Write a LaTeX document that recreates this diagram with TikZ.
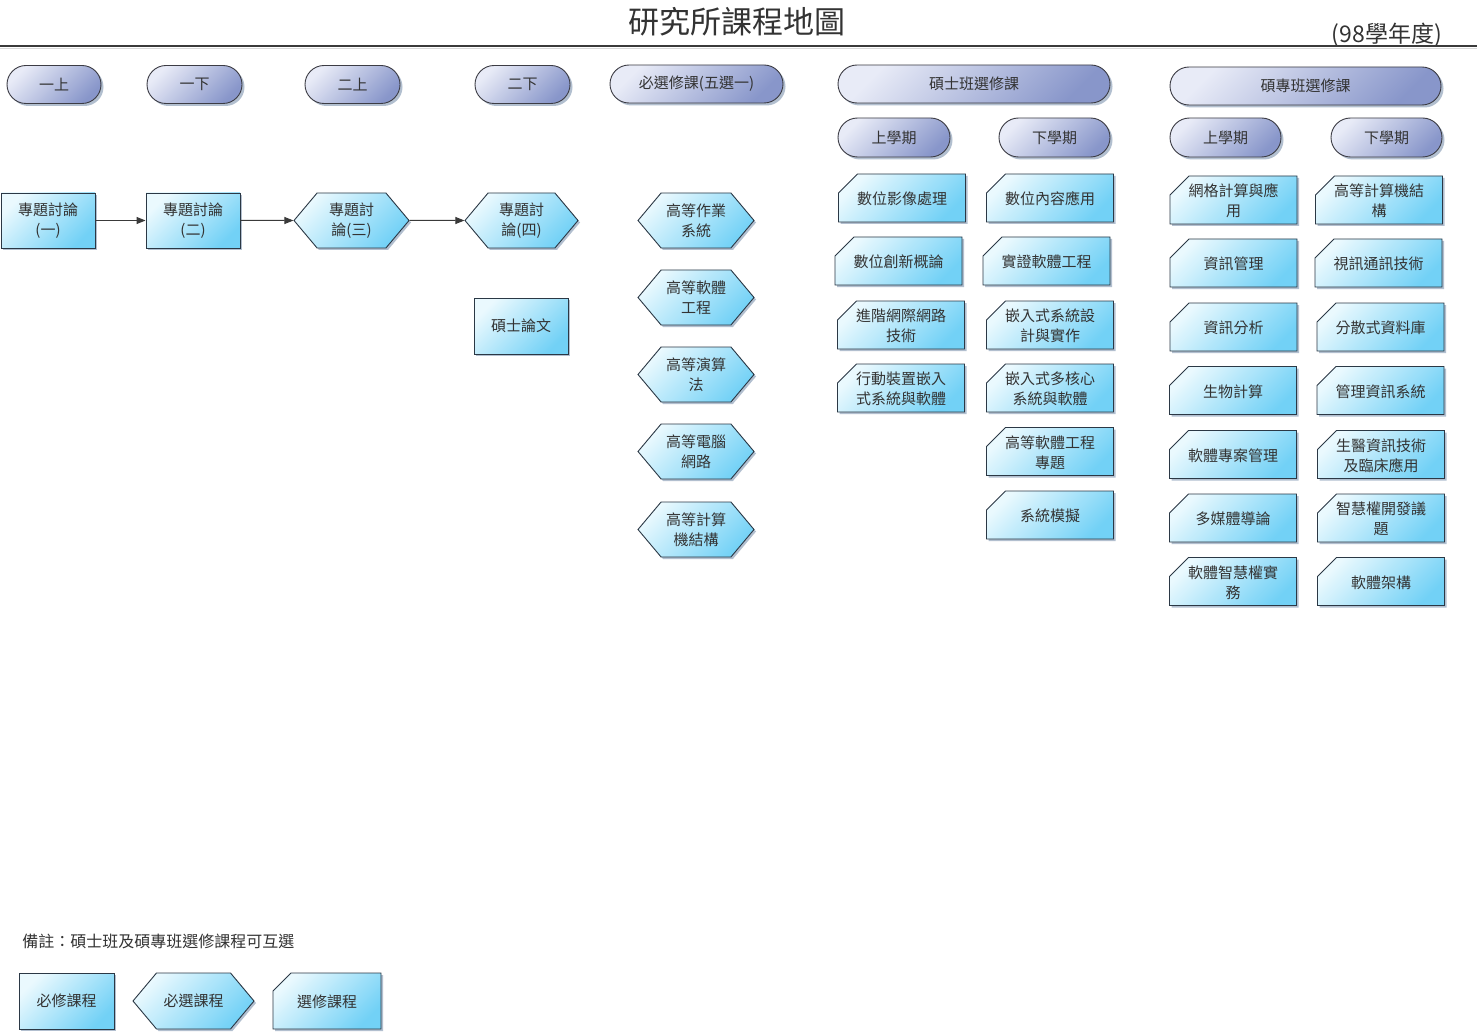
\documentclass[tikz,border=0pt]{standalone}
\usepackage{fontspec}
\newfontfamily\cjkf{Noto Sans CJK TC}
\usetikzlibrary{shapes.misc,shapes.symbols,shadows,arrows.meta}
\definecolor{txt}{HTML}{333333}
\definecolor{bord}{HTML}{2B3845}
\definecolor{pbord}{HTML}{3C3C44}
\definecolor{boxtop}{HTML}{EAF9FE}
\definecolor{boxbot}{HTML}{72D1F6}
\definecolor{pilltop}{HTML}{E8EBF7}
\definecolor{pillbot}{HTML}{8896CA}
\definecolor{shad}{HTML}{9FB0C4}
\definecolor{rulec}{HTML}{3A3A3A}
\newcommand\zc[1]{\raisebox{\dimexpr0.5\depth-0.5\height-2.5pt\relax}[0pt][0pt]{\begin{tabular}{@{}c@{}}#1\end{tabular}}}
\begin{document}
\begin{tikzpicture}[x=1pt,y=-1pt,
  base/.style={font=\cjkf\fontsize{15}{20}\selectfont, text=txt, align=center, inner sep=0pt, line width=0.9pt},
  boxfill/.style={draw=bord, top color=boxtop, bottom color=boxbot, shading angle=45,
    drop shadow={shadow xshift=2pt, shadow yshift=-2pt, fill=shad, opacity=0.8}},
  pill/.style={base, rounded rectangle, draw=pbord, minimum height=38, top color=pilltop, bottom color=pillbot, shading angle=45,
    drop shadow={shadow xshift=2.5pt, shadow yshift=-2.5pt, fill=shad, opacity=0.8}},
  reqbox/.style={base, rectangle, boxfill, minimum width=94, minimum height=55},
  hexbox/.style={base, signal, signal to=east and west, signal pointer angle=100, boxfill, minimum width=115, minimum height=55},
  elbox/.style={base, chamfered rectangle, chamfered rectangle corners=north west, chamfered rectangle xsep=24pt, chamfered rectangle ysep=19pt, boxfill, minimum width=127, minimum height=48},
  link/.style={draw=rulec, line width=1pt, -{Triangle[length=9pt,width=7pt]}}
]
\useasboundingbox (0,0) rectangle (1477,1032);
\fill[white] (0,0) rectangle (1477,1032);

% title
\node[font=\cjkf\fontsize{31}{36}\selectfont, text=txt, inner sep=0pt] (title) at (737,22) {研究所課程地圖};
\node[font=\cjkf\fontsize{23}{26}\selectfont, text=txt, inner sep=0pt] (year) at (1387,35) {(98學年度)};
\draw[rulec, line width=1.1pt] (0,46) -- (1477,46);
\draw[black!15, line width=0.8pt] (0,48.5) -- (1477,48.5);

% header pills
\node[pill, minimum width=94] (p1) at (54,84.5) {一上};
\node[pill, minimum width=95] (p2) at (194.5,84.5) {一下};
\node[pill, minimum width=95] (p3) at (352.5,84.5) {二上};
\node[pill, minimum width=95] (p4) at (522.5,84.5) {二下};
\node[pill, minimum width=173] (p5) at (696.5,84) {必選修課(五選一)};
\node[pill, minimum width=272] (pm) at (974,84) {碩士班選修課};
\node[pill, minimum width=271] (pe) at (1305.5,86) {碩專班選修課};
\node[pill, minimum width=112, minimum height=39] (pm1) at (894,137.5) {上學期};
\node[pill, minimum width=111, minimum height=39] (pm2) at (1054.5,137.5) {下學期};
\node[pill, minimum width=111, minimum height=39] (pe1) at (1225.5,137.5) {上學期};
\node[pill, minimum width=111, minimum height=39] (pe2) at (1386.5,137.5) {下學期};

% required
\node[reqbox] (r1) at (48,220.5) {專題討論\\(一)};
\node[reqbox] (r2) at (193,220.5) {專題討論\\(二)};
\node[hexbox] (r3) at (351.5,220.5) {專題討\\論(三)};
\node[hexbox, minimum width=113] (r4) at (521.5,220.5) {專題討\\論(四)};
\node[reqbox, minimum height=56] (th) at (521,326) {碩士論文};
\draw[link] (r1) -- (r2);
\draw[link] (r2) -- (r3);
\draw[link] (r3) -- (r4);

% must-elect
\node[hexbox, minimum width=116] (m1) at (696,220.5) {高等作業\\系統};
\node[hexbox, minimum width=116] (m2) at (696,297.5) {高等軟體\\工程};
\node[hexbox, minimum width=116] (m3) at (696,374.5) {高等演算\\法};
\node[hexbox, minimum width=116] (m4) at (696,451.5) {高等電腦\\網路};
\node[hexbox, minimum width=116] (m5) at (696,529.5) {高等計算\\機結構};

% master electives
\node[elbox] (a1) at (902,198) {\zc{數位影像處理}};
\node[elbox] (a2) at (898.5,261) {\zc{數位創新概論}};
\node[elbox] (a3) at (901,325) {\zc{進階網際網路\\技術}};
\node[elbox] (a4) at (901,388) {\zc{行動裝置嵌入\\式系統與軟體}};
\node[elbox] (b1) at (1050,198) {\zc{數位內容應用}};
\node[elbox] (b2) at (1046.5,261) {\zc{實證軟體工程}};
\node[elbox] (b3) at (1050,325) {\zc{嵌入式系統設\\計與實作}};
\node[elbox] (b4) at (1050,388) {\zc{嵌入式多核心\\系統與軟體}};
\node[elbox] (b5) at (1050,451.5) {\zc{高等軟體工程\\專題}};
\node[elbox] (b6) at (1050,515) {\zc{系統模擬}};

% in-service electives
\node[elbox] (c1) at (1233.5,200) {\zc{網格計算與應\\用}};
\node[elbox] (c2) at (1233.5,263) {\zc{資訊管理}};
\node[elbox] (c3) at (1233.5,327) {\zc{資訊分析}};
\node[elbox] (c4) at (1233,390.5) {\zc{生物計算}};
\node[elbox] (c5) at (1233,454.5) {\zc{軟體專案管理}};
\node[elbox] (c6) at (1233,518) {\zc{多媒體導論}};
\node[elbox] (c7) at (1233,581.5) {\zc{軟體智慧權實\\務}};
\node[elbox] (d1) at (1379,200) {\zc{高等計算機結\\構}};
\node[elbox] (d2) at (1378.5,263) {\zc{視訊通訊技術}};
\node[elbox] (d3) at (1380.5,327) {\zc{分散式資料庫}};
\node[elbox] (d4) at (1380.5,390.5) {\zc{管理資訊系統}};
\node[elbox] (d5) at (1381,454.5) {\zc{生醫資訊技術\\及臨床應用}};
\node[elbox] (d6) at (1381,518) {\zc{智慧權開發議\\題}};
\node[elbox] (d7) at (1381,581.5) {\zc{軟體架構}};

% legend
\node[base, font=\cjkf\fontsize{16}{20}\selectfont, anchor=west] (note) at (22,941) {備註：碩士班及碩專班選修課程可互選};
\node[reqbox, minimum width=95, minimum height=56] (l1) at (66.5,1001) {必修課程};
\node[hexbox, minimum width=121, minimum height=56] (l2) at (193.5,1001) {必選課程};
\node[elbox, minimum width=108, minimum height=56, chamfered rectangle xsep=14pt, chamfered rectangle ysep=18pt] (l3) at (327,1001) {\zc{選修課程}};
\end{tikzpicture}
\end{document}
